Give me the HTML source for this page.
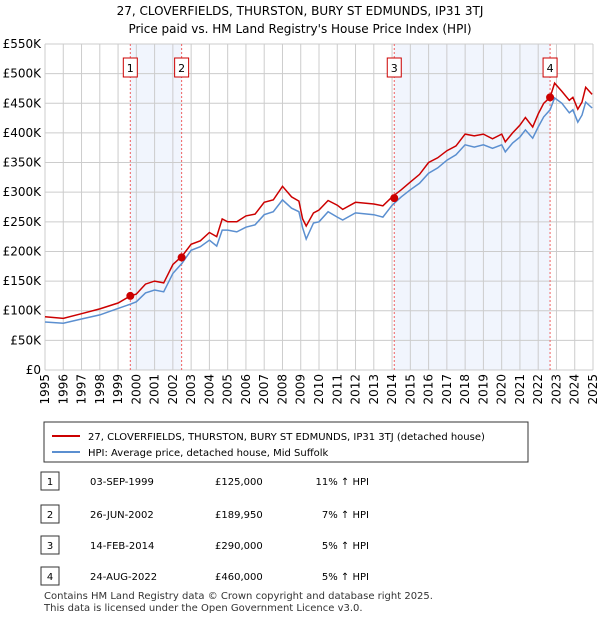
<!DOCTYPE html>
<html><head><meta charset="utf-8"><style>
body{margin:0;background:#fff;font-family:"Liberation Sans","DejaVu Sans",sans-serif}
svg text{font-family:"DejaVu Sans","Liberation Sans",sans-serif}
</style></head><body>
<svg id="c" width="600" height="620" xmlns="http://www.w3.org/2000/svg">
<text x="300" y="15" text-anchor="middle" font-size="12">27, CLOVERFIELDS, THURSTON, BURY ST EDMUNDS, IP31 3TJ</text>
<text x="300" y="33" text-anchor="middle" font-size="12">Price paid vs. HM Land Registry's House Price Index (HPI)</text>
<g id="plot"></g>
<rect x="44" y="422" width="484" height="40" fill="#fff" stroke="#333"/>
<line x1="52" y1="436" x2="80" y2="436" stroke="#cc0000" stroke-width="2"/>
<text x="88" y="440" font-size="10">27, CLOVERFIELDS, THURSTON, BURY ST EDMUNDS, IP31 3TJ (detached house)</text>
<line x1="52" y1="452" x2="80" y2="452" stroke="#5b8fd0" stroke-width="2"/>
<text x="88" y="456" font-size="10">HPI: Average price, detached house, Mid Suffolk</text>
<g id="tbl" font-size="10"></g>
<text x="44" y="599" font-size="10" fill="#333">Contains HM Land Registry data © Crown copyright and database right 2025.</text>
<text x="44" y="611" font-size="10" fill="#333">This data is licensed under the Open Government Licence v3.0.</text>
</svg>
<script>
const years=[1995,1996,1997,1998,1999,2000,2001,2002,2003,2004,2005,2006,2007,2008,2009,2010,2011,2012,2013,2014,2015,2016,2017,2018,2019,2020,2021,2022,2023,2024,2025];
const yTicks=[0,50,100,150,200,250,300,350,400,450,500,550];
const yTickLabels=["£0","£50K","£100K","£150K","£200K","£250K","£300K","£350K","£400K","£450K","£500K","£550K"];
const dates=[1995,1996,1997,1998,1999,1999.67,2000,2000.5,2001,2001.5,2002,2002.5,2003,2003.5,2004,2004.4,2004.7,2005,2005.5,2006,2006.5,2007,2007.5,2008,2008.5,2008.9,2009.1,2009.3,2009.7,2010,2010.5,2011,2011.3,2012,2013,2013.5,2014,2014.5,2015,2015.5,2016,2016.5,2017,2017.5,2018,2018.5,2019,2019.5,2020,2020.2,2020.6,2021,2021.3,2021.7,2022,2022.3,2022.65,2022.9,2023.3,2023.7,2023.9,2024.17,2024.4,2024.6,2024.95];
const hpi=[81,79,86,93,104,111,115,130,135,132,163,180,202,208,219,209,236,236,233,241,245,262,267,287,273,267,240,221,248,250,267,258,253,265,262,258,278,292,304,315,332,341,354,363,380,376,380,374,380,368,383,393,405,391,410,427,439,459,450,434,439,418,430,452,442];
const price=[90,87,95,103,113,125,128,145,150,147,178,192,212,218,232,225,255,250,250,260,263,283,287,310,292,285,255,243,265,270,286,278,271,283,280,277,292,304,317,330,350,358,370,378,398,395,398,390,398,385,400,413,426,410,432,450,460,484,470,455,460,440,452,477,465];
const saleDates=[1999.67,2002.48,2014.12,2022.65];
const salePrices=[125,189.95,290,460];
const saleLabels=["1","2","3","4"];
const saleDateText=["03-SEP-1999","26-JUN-2002","14-FEB-2014","24-AUG-2022"];
const salePriceText=["£125,000","£189,950","£290,000","£460,000"];
const saleHpiText=["11% ↑ HPI","7% ↑ HPI","5% ↑ HPI","5% ↑ HPI"];
const NS="http://www.w3.org/2000/svg";
const X0=45,X1=593,Y0=370,Y1=44;
const xs=d=>X0+(d-1995)/30*(X1-X0);
const ys=v=>Y0-v/550*(Y0-Y1);
const g=document.getElementById('plot');
function mk(t,a,p){const e=document.createElementNS(NS,t);for(const k in a)e.setAttribute(k,a[k]);(p||g).appendChild(e);return e;}
for(let i=0;i<4;i+=2){
 const r=mk('rect',{x:xs(saleDates[i]),y:Y1,width:xs(saleDates[i+1])-xs(saleDates[i]),height:Y0-Y1,fill:'#eef3fc',opacity:0.8});
 
 
}
yTicks.forEach((v,i)=>{
 const l=mk('line',{x1:X0,x2:X1,y1:ys(v),y2:ys(v),stroke:'#ccc'});
 
 
 const t=mk('text',{x:X0-4,y:ys(v)+4,'text-anchor':'end','font-size':12});
 t.textContent=yTickLabels[i];
 
 
});
years.forEach(y=>{
 const l=mk('line',{x1:xs(y),x2:xs(y),y1:Y1,y2:Y0,stroke:'#ccc'});
 
 
 const t=mk('text',{x:0,y:0,'text-anchor':'end','font-size':12,transform:`translate(${xs(y)+4},374) rotate(-90)`});
 t.textContent=y;
 
 
});
saleDates.forEach((d,i)=>{
 const l=mk('line',{x1:xs(d),x2:xs(d),y1:Y1,y2:Y0,stroke:'#f06060','stroke-dasharray':'2,2'});
 
 
 const b=mk('rect',{x:xs(d)-7,y:58,width:14,height:19,fill:'#fff',stroke:'#cc0000'});
 
 
 const t=mk('text',{x:xs(d),y:72,'text-anchor':'middle','font-size':11});
 t.textContent=saleLabels[i];
 
 
});
function path(vals,col,name){
 const p=mk('path',{d:dates.map((d,i)=>(i?'L':'M')+xs(d).toFixed(1)+','+ys(vals[i]).toFixed(1)).join(''),fill:'none',stroke:col,'stroke-width':1.5});
 
 
}
path(hpi,'#5b8fd0','hpi-line');
path(price,'#cc0000','price-paid-line');
saleDates.forEach((d,i)=>{
 const c=mk('circle',{cx:xs(d),cy:ys(salePrices[i]),r:4,fill:'#cc0000'});
 
 
});
const tb=document.getElementById('tbl');
const rowY=[481,514,545,576];
saleLabels.forEach((s,i)=>{
 const y=rowY[i];
 const b=mk('rect',{x:41,y:y-9,width:18,height:18,fill:'#fff',stroke:'#333'},tb);
 
 
 const cells=[[50,s,'middle'],[90,saleDateText[i],'start'],[215,salePriceText[i],'start'],[369,saleHpiText[i],'end']];
 cells.forEach(c=>{
  const t=mk('text',{x:c[0],y:y+4,'text-anchor':c[2]},tb);
  t.textContent=c[1];
  
  
 });
});
</script>
</body></html>
